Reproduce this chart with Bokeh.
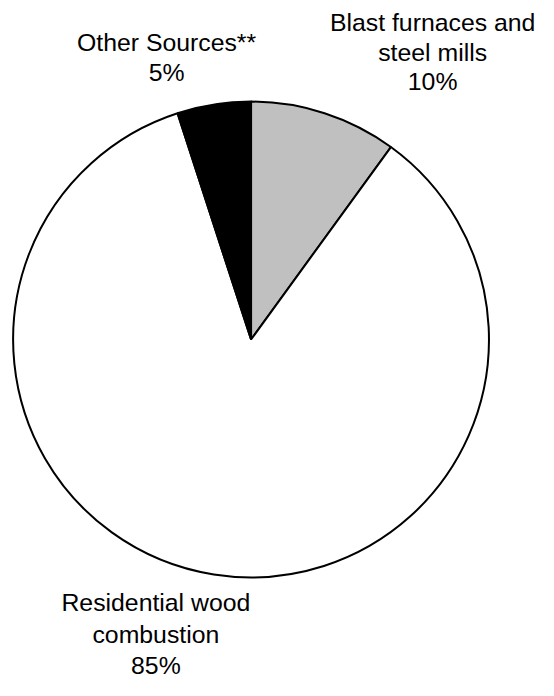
from bokeh.plotting import figure
from bokeh.models import Range1d, ColumnDataSource
from bokeh.core.properties import value
from bokeh.embed import file_html
from bokeh.resources import INLINE

# Data
categories = ["Blast furnaces and steel mills", "Residential wood combustion", "Other Sources**"]
percents = [10, 85, 5]
colors = ["#c0c0c0", "#ffffff", "#000000"]
label_lines = [
    ["Blast furnaces and", "steel mills", "10%"],
    ["Residential wood", "combustion", "85%"],
    ["Other Sources**", "5%"],
]

W, H = 538, 680
REF_W, REF_H = 554, 696
p = figure(width=W, height=H, output_backend="svg", toolbar_location=None,
           x_range=Range1d(0, REF_W), y_range=Range1d(0, REF_H),
           min_border=0)
p.axis.visible = False
p.grid.visible = False
p.outline_line_color = None
p.background_fill_color = "white"
p.border_fill_color = "white"

def py(y):  # reference y (top-down) -> data y
    return REF_H - y

cx, cy, r = 258, py(347), 245
total = sum(percents)
starts, ends = [], []
acc = 0
for v in percents:
    starts.append(90 - acc / total * 360)
    acc += v
    ends.append(90 - acc / total * 360)

src = ColumnDataSource(dict(start=starts, end=ends, color=colors, cat=categories))
p.wedge(x=cx, y=cy, radius=r, start_angle="start", end_angle="end",
        start_angle_units="deg", end_angle_units="deg", direction="clock",
        fill_color="color", line_color="black", line_width=2, source=src)

# label placement (centre x, first baseline y, line spacing) in reference pixels
BASE_SHIFT = 9  # renderer places alphabetic baseline slightly lower
placements = [(445, 32, 30), (160, 625, 32.5), (171, 52, 31)]
xs, ys, ts = [], [], []
for lines, (lx, ly, dy) in zip(label_lines, placements):
    for i, t in enumerate(lines):
        xs.append(lx)
        ys.append(py(ly + i * dy - BASE_SHIFT))
        ts.append(t)
p.text(x=xs, y=ys, text=ts, text_align="center", text_baseline="alphabetic",
       text_font=value("Liberation Sans"), text_font_size="24.8px", text_color="black")

open("out.html", "w").write(file_html(p, INLINE))
